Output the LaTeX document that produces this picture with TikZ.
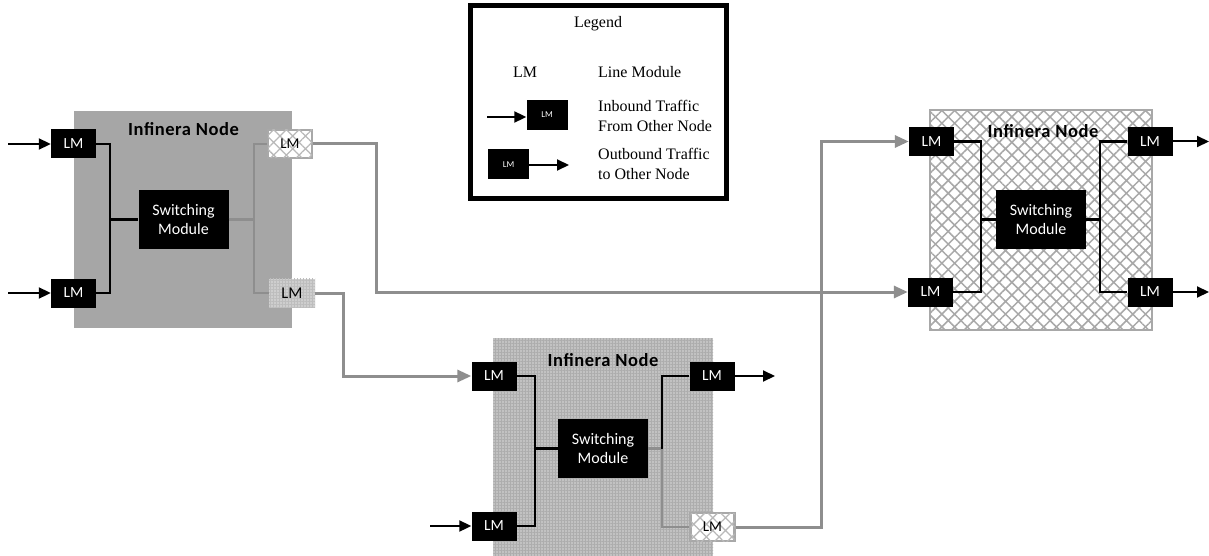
\documentclass[tikz,border=0pt]{standalone}
\usepackage{fontspec}
\setmainfont{Liberation Serif}
\setsansfont{Carlito}
\newfontfamily\titlefont{Carlito}[LetterSpace=3]
\usetikzlibrary{arrows.meta,patterns.meta}
\definecolor{nodegray}{HTML}{A6A6A6}
\definecolor{checkgray}{HTML}{C2C2C2}
\definecolor{checkdark}{HTML}{ADADAD}
\definecolor{hatchgray}{HTML}{A8A8A8}
\definecolor{linkgray}{HTML}{8E8E8E}
\tikzset{
  lm/.style={draw=none,fill=black,text=white,inner sep=0pt,font=\sffamily\fontsize{15.5}{15.5}\selectfont,minimum width=45pt,minimum height=29pt},
  lmhatch/.style={draw=hatchgray,line width=2.8pt,fill=white,text=black,inner sep=0pt,font=\sffamily\fontsize{15}{15}\selectfont,minimum width=44pt,minimum height=28pt,
     postaction={pattern={Hatch[angle=45,distance=9pt,line width=1.3pt]},pattern color=hatchgray!80}},
  lmcheck/.style={draw=none,fill=checkgray!80,text=black,inner sep=0pt,font=\sffamily\fontsize{16.5}{16.5}\selectfont,minimum width=46pt,minimum height=29pt,
     postaction={pattern={Hatch[angle=0,distance=3pt,line width=0.8pt]},pattern color=checkdark!80}},
  sm/.style={fill=black,text=white,inner sep=0pt,align=center,font=\sffamily\fontsize{16}{19}\selectfont,minimum width=90pt,minimum height=59pt},
  title/.style={font=\titlefont\bfseries\fontsize{18.5}{18.5}\selectfont,text=black,inner sep=0pt},
  inline/.style={black,line width=2.4pt},
  ingray/.style={linkgray,line width=2.7pt},
  blkarrow/.style={black,line width=2pt,-{Triangle[length=12pt,width=11pt]}},
  grayarrow/.style={linkgray,line width=3pt,-{Triangle[length=14pt,width=12pt]}},
  legtext/.style={font=\fontsize{16}{20.5}\selectfont,align=left,anchor=west,inner sep=0pt},
  leglm/.style={fill=black,text=white,inner sep=0pt,font=\sffamily\fontsize{9}{9}\selectfont,minimum width=41pt,minimum height=30pt},
}
\begin{document}
\begin{tikzpicture}[x=1pt,y=-1pt]
\useasboundingbox[fill=white] (0,0) rectangle (1209,556);

% ---------- Node 1 ----------
\path[fill=nodegray] (74,111) rectangle (292,328);
\node[title] (t1) at (183.5,129) {Infinera Node};
\node[lm] (n1a) at (73.5,144) {LM};
\node[lm] (n1b) at (73.5,293) {LM};
\node[sm] (n1sm) at (183.5,219.5) {Switching\\Module};
\node[lmhatch] (n1c) at (290,144) {LM};
\node[lmcheck] (n1d) at (292,293) {LM};
\coordinate (j1) at (110,219.5);
\coordinate (k1) at (254,219.5);
\draw[inline] (n1a.east) -| (j1) |- (n1b.east);
\draw[inline] (j1) -- (n1sm.west);
\draw[ingray] (n1sm.east) -- (k1);
\draw[ingray] (n1c.west) -| (k1) |- (n1d.west);
\coordinate (i1a) at (8,144);
\coordinate (i1b) at (8,293);
\draw[blkarrow] (i1a) -- (n1a.west);
\draw[blkarrow] (i1b) -- (n1b.west);

% ---------- Node 2 ----------
\path[fill=checkgray,postaction={pattern={Hatch[angle=0,distance=3pt,line width=0.8pt]},pattern color=checkdark}] (493,338) rectangle (713,556);
\node[title] (t2) at (603,360) {Infinera Node};
\node[lm] (n2a) at (494,376) {LM};
\node[lm] (n2b) at (494,526) {LM};
\node[sm] (n2sm) at (603,448.5) {Switching\\Module};
\node[lm] (n2c) at (712,376) {LM};
\node[lmhatch] (n2d) at (712.5,527) {LM};
\coordinate (j2) at (535,448.5);
\coordinate (k2) at (662,448.5);
\draw[inline] (n2a.east) -| (j2) |- (n2b.east);
\draw[inline] (j2) -- (n2sm.west);
\draw[ingray] (n2sm.east) -- (k2);
\draw[inline] (k2) |- (n2c.west);
\draw[ingray] (k2) |- (n2d.west);
\coordinate (i2b) at (430,526);
\coordinate (o2c) at (775,376);
\draw[blkarrow] (i2b) -- (n2b.west);
\draw[blkarrow] (n2c.east) -- (o2c);

% ---------- Node 3 ----------
\path[fill=white,draw=hatchgray,line width=2.8pt,postaction={pattern={Hatch[angle=45,distance=9pt,line width=1.5pt]},pattern color=hatchgray}] (930,110) rectangle (1152,330);
\node[title] (t3) at (1043,131) {Infinera Node};
\node[lm] (n3a) at (931.5,141.5) {LM};
\node[lm] (n3b) at (930.5,292) {LM};
\node[sm] (n3sm) at (1041,219.5) {Switching\\Module};
\node[lm] (n3c) at (1150,141.5) {LM};
\node[lm] (n3d) at (1150,292) {LM};
\coordinate (j3) at (981,219.5);
\coordinate (k3) at (1100,219.5);
\draw[inline] (n3a.east) -| (j3) |- (n3b.east);
\draw[inline] (j3) -- (n3sm.west);
\draw[inline] (n3c.west) -| (k3) |- (n3d.west);
\draw[inline] (n3sm.east) -- (k3);
\coordinate (o3c) at (1209,141.5);
\coordinate (o3d) at (1209,292);
\draw[blkarrow] (n3c.east) -- (o3c);
\draw[blkarrow] (n3d.east) -- (o3d);

% ---------- Links between nodes ----------
\coordinate (b1) at (376,292);
\coordinate (b2) at (343,376);
\coordinate (b3) at (821,141.5);
\draw[grayarrow] (n1c.east) -| (b1) -- (n3b.west);
\draw[grayarrow] (n1d.east) -| (b2) -- (n2a.west);
\draw[grayarrow] (n2d.east) -| (b3) -- (n3a.west);

% ---------- Legend ----------
\node[draw=black,line width=5pt,minimum width=256pt,minimum height=192pt,inner sep=0pt] (leg) at (598.5,102) {};
\node[font=\fontsize{16}{16}\selectfont,inner sep=0pt] (legt) at (598,24) {Legend};
\node[font=\fontsize{16}{16}\selectfont,inner sep=0pt] (legm) at (525,72) {LM};
\node[legtext] (legmt) at (598,72) {Line Module};
\node[leglm] (legin) at (547,115) {LM};
\coordinate (legina) at (487,117);
\draw[blkarrow] (legina) -- (legin.west |- legina);
\node[legtext] (legint) at (598,116) {Inbound Traffic\\From Other Node};
\node[leglm] (legout) at (508.5,164.5) {LM};
\coordinate (legoutb) at (569,165);
\draw[blkarrow] (legout.east |- legoutb) -- (legoutb);
\node[legtext] (legoutt) at (598,164) {Outbound Traffic\\to Other Node};
\end{tikzpicture}
\end{document}
